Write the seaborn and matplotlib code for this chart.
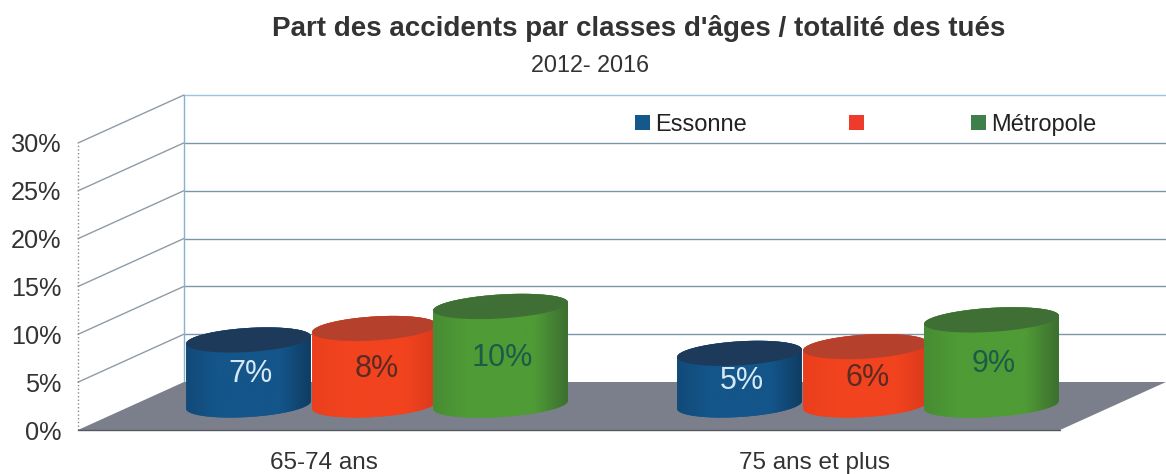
import numpy as np
import pandas as pd
import matplotlib

matplotlib.use("Agg")
import matplotlib.pyplot as plt
import seaborn as sns
from matplotlib.colors import LinearSegmentedColormap
from matplotlib.patches import Patch, Polygon

# ===================== data =====================
classes = ["65-74 ans", "75 ans et plus"]
zones = ["Essonne", "", "Métropole"]
essonne = [6.8, 5.4]
sans_nom = [8.0, 6.1]
metropole = [10.3, 8.9]
y_ticks = [0, 5, 10, 15, 20, 25, 30]

side_colors = ["#14558a", "#f2431f", "#4f9b36"]
left_colors = ["#124a78", "#ea3f1d", "#478c33"]
edge_colors = ["#0f3d63", "#d93a1c", "#3c6f30"]
top_colors = ["#1e3a5a", "#b5412c", "#3f6f35"]
label_colors = ["#d6e8f4", "#5b2a22", "#1d5a48"]
legend_colors = ["#14588c", "#ee3b2b", "#3f7f4c"]

df = pd.DataFrame({
    "classe": classes * 3,
    "zone": [z for z in zones for _ in classes],
    "part": essonne + sans_nom + metropole,
})

sns.set_theme(style="white")
plt.rcParams["font.family"] = ["Liberation Sans", "DejaVu Sans"]

W, H = 1166, 474
fig = plt.figure(figsize=(W / 100, H / 100), dpi=100)
ax = fig.add_axes([78 / W, (H - 430) / H, (1060 - 78) / W, (430 - 143) / H])

sns.barplot(data=df, x="classe", y="part", hue="zone", order=classes, hue_order=zones,
            palette=dict(zip(zones, side_colors)), width=0.77, gap=0, legend=False,
            errorbar=None, ax=ax)
ax.set_xlim(-0.5, 1.5)
ax.set_ylim(0, 30)

# pixels -> data units, the chart fakes a 3D depth
px_x = 2 / (1060 - 78)
px_y = 30 / (430 - 143)
back_x, back_y = 106 * px_x, 48 * px_y
bar_x, bar_y = 51 * px_x, 25 * px_y

# floor and walls
floor = Polygon([(-0.5, 0), (1.5, 0), (1.5 + back_x, back_y), (-0.5 + back_x, back_y)],
                closed=True, facecolor="#7b7f8b", edgecolor="none", zorder=1, clip_on=False)
ax.add_patch(floor)
for t in y_ticks:
    col = "#9cc4de" if t == 30 else "#7d95a8"
    if t > 0:
        ax.plot([-0.5 + back_x, 1.5 + back_x], [t + back_y] * 2, color=col, lw=1, zorder=0.5, clip_on=False)
        ax.plot([-0.5, -0.5 + back_x], [t, t + back_y], color="#8f9ba5", lw=1, zorder=0.5, clip_on=False)
ax.plot([-0.5 + back_x] * 2, [back_y, 30 + back_y], color="#86b2cf", lw=1, zorder=0.6, clip_on=False)
ax.plot([-0.5, -0.5], [0, 30], color="#8a8a8a", lw=1, ls=":", zorder=0.6, clip_on=False)
ax.plot([-0.5, 1.5], [0, 0], color="#55585f", lw=1, zorder=1.1, clip_on=False)


def ellipse_xy(cx, cy, w, t):
    # slightly tilted ellipse, points for angle t
    x = cx + w / 2 * np.cos(t)
    y = cy + 12 * px_y * np.sin(t) + (x - cx) * (px_y / px_x) * 0.06
    return x, y


# turn each seaborn bar into a cylinder
order = 2
for i in range(len(zones)):
    for bar in ax.containers[i]:
        v = bar.get_height()
        w = bar.get_width() * (1.07 if i == 2 else 0.99)
        cx = bar.get_x() + bar.get_width() / 2 + bar_x
        bar.set_visible(False)
        y0, y1 = bar_y, v + bar_y

        t_low = np.linspace(np.pi, 2 * np.pi, 60)
        t_up = np.linspace(0, np.pi, 60)
        xl, yl = ellipse_xy(cx, y0, w, t_low)
        xu, yu = ellipse_xy(cx, y1, w, t_up)
        body = Polygon(np.column_stack([np.r_[xl, xu], np.r_[yl, yu]]), closed=True,
                       facecolor=side_colors[i], edgecolor="none", zorder=order)
        ax.add_patch(body)

        cmap = LinearSegmentedColormap.from_list(
            "side", [left_colors[i], side_colors[i], side_colors[i], side_colors[i], edge_colors[i]])
        grad = np.linspace(0, 1, 256).reshape(1, -1)
        im = ax.imshow(grad, cmap=cmap, aspect="auto", zorder=order + 0.1,
                       extent=(cx - w / 2, cx + w / 2, y0 - 3, y1 + 3))
        im.set_clip_path(body)

        xt, yt = ellipse_xy(cx, y1, w, np.linspace(0, 2 * np.pi, 120))
        ax.add_patch(Polygon(np.column_stack([xt, yt]), closed=True, facecolor=top_colors[i],
                             edgecolor="none", zorder=order + 0.2))

        ax.text(cx + 2 * px_x, (y0 + y1) / 2 - 0.2, f"{v:.0f}%", color=label_colors[i],
                fontsize=22, ha="center", va="center", zorder=order + 0.3)
        order += 1

ax.set_xlim(-0.5, 1.5)
ax.set_ylim(0, 30)

ax.set_yticks(y_ticks)
ax.set_yticklabels([f"{t}%" for t in y_ticks], fontsize=18.2, color="#333333")
ax.tick_params(axis="y", length=0, pad=12)
ax.tick_params(axis="x", length=0, pad=15.5, labelsize=17.5, labelcolor="#333333")
ax.set_xlabel("")
ax.set_ylabel("")
ax.patch.set_visible(False)
sns.despine(ax=ax, left=True, bottom=True)

handles = [Patch(facecolor=c, edgecolor="none") for c in legend_colors]
fig.legend(handles, zones, ncol=3, frameon=False, fontsize=17, loc="center left",
           bbox_to_anchor=(628 / W, (H - 125) / H), columnspacing=4.3, handlelength=0.62,
           handleheight=0.62, handletextpad=0.25, labelcolor="#222222", borderpad=0.3, borderaxespad=0)

fig.text(639 / W, (H - 29) / H, "Part des accidents par classes d'âges / totalité des tués",
         fontsize=20, fontweight="bold", color="#333333", ha="center", va="center")
fig.text(590 / W, (H - 65) / H, "2012- 2016", fontsize=16.8, color="#333333", ha="center", va="center")

fig.savefig("out.png", dpi=100)
plt.close(fig)
